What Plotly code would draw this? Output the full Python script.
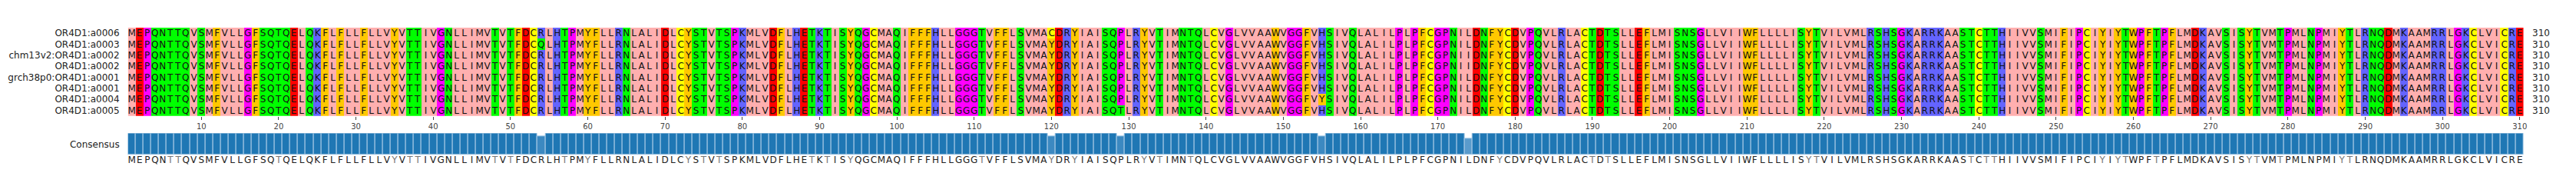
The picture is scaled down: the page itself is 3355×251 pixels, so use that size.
import plotly.graph_objects as go
from collections import Counter

# ---------------- data ----------------
names = [
    "OR4D1:a0006",
    "OR4D1:a0003",
    "chm13v2:OR4D1:a0002",
    "OR4D1:a0002",
    "grch38p0:OR4D1:a0001",
    "OR4D1:a0001",
    "OR4D1:a0004",
    "OR4D1:a0005",
]

base = ("MEPQNTTQVSMFVLLGFSQTQELQKFLFLLFLLVYVTTIVGNLLIMVTVTFDCRLHTPMYFLLRNLALID"
        "LCYSTVTSPKMLVDFLHETKTISYQGCMAQIFFFHLLGGGTVFFLSVMAYDRYIAISQPLRYVTIMNTQL"
        "CVGLVVAAWVGGFVHSIVQLALILPLPFCGPNILDNFYCDVPQVLRLACTDTSLLEFLMISNSGLLVIIW"
        "FLLLLISYTVILVMLRSHSGKARRKAASTCTTHIIVVSMIFIPCIYIYTWPFTPFLMDKAVSISYTVMTP"
        "MLNPMIYTLRNQDMKAAMRRLGKCLVICRE")

# per-sequence substitutions: {position(1-based): residue}
variants = [
    {120: "C"},
    {54: "Q"},
    {174: "I"},
    {174: "I"},
    {},
    {},
    {155: "Y"},
    {129: "T"},
]

tick_positions = list(range(10, 311, 10))

# Zappo colour groups
groups = [
    ("AILMV", "#ffafaf"),
    ("FWY", "#ffc800"),
    ("KRH", "#6464ff"),
    ("DE", "#ff0000"),
    ("STNQ", "#00ff00"),
    ("GP", "#ff00ff"),
    ("C", "#ffff00"),
]

# ---------------- build ----------------
seqs = []
for v in variants:
    s = list(base)
    for p, r in v.items():
        s[p - 1] = r
    seqs.append("".join(s))

L = len(base)
xs = list(range(1, L + 1))
letter_group = {}
for gi, (letters, col) in enumerate(groups):
    for ch in letters:
        letter_group[ch] = gi

z = [[letter_group[c] for c in s] for s in seqs]
text = [[c for c in s] for s in seqs]
ng = len(groups)
colorscale = []
for gi, (_, col) in enumerate(groups):
    colorscale.append([gi / ng, col])
    colorscale.append([(gi + 1) / ng, col])

consensus = []
conservation = []
for i in range(L):
    cnt = Counter(s[i] for s in seqs)
    ch, n = cnt.most_common(1)[0]
    consensus.append(ch)
    conservation.append(n / len(seqs))


def bar_color(c):
    if c >= 0.999:
        return "#1f77b4"
    if c >= 0.85:
        return "#3c89c1"
    return "#5a9bcc"


W, H = 3355, 251
x0, x1 = 166.9, 3291.7
hm_top, hm_bot = 36.0, 150.7
bar_top, bar_bot = 173.3, 201.7
cons_top, cons_bot = 202.0, 216.0

FONT = "DejaVu Sans"

fig = go.Figure()
fig.add_trace(go.Heatmap(
    z=z, x=xs, y=list(range(len(seqs))), text=text,
    texttemplate="%{text}", textfont=dict(size=12, color="#111111", family=FONT),
    colorscale=colorscale, zmin=-0.5, zmax=ng - 0.5, showscale=False,
    hoverinfo="skip", xaxis="x", yaxis="y",
))
fig.add_trace(go.Bar(
    x=xs, y=conservation, marker=dict(color=[bar_color(c) for c in conservation],
                                      line=dict(color="#a9cbe6", width=1)),
    width=1.0, xaxis="x2", yaxis="y2", hoverinfo="skip",
))
cons_colors = ["#777777" if c in "TY" else "#222222" for c in consensus]
fig.add_trace(go.Scatter(
    x=xs, y=[0.5] * L, mode="text", text=consensus, textposition="middle center",
    textfont=dict(size=12, color=cons_colors, family=FONT),
    xaxis="x3", yaxis="y3", hoverinfo="skip",
))

for i, s in enumerate(seqs):
    fig.add_annotation(x=L + 0.5, y=i, xref="x", yref="y", text=str(len(s.replace("-", ""))),
                       showarrow=False, xanchor="left", xshift=9,
                       font=dict(size=12, color="#222222", family=FONT))

xd = [x0 / W, x1 / W]
hidden_x = dict(domain=xd, range=[0.5, L + 0.5], showticklabels=False, ticks="",
                showgrid=False, zeroline=False, showline=False)
fig.update_layout(
    width=W, height=H, margin=dict(l=0, r=0, t=0, b=0),
    paper_bgcolor="white", plot_bgcolor="white", showlegend=False,
    font=dict(family=FONT, color="#222222"),
    xaxis=dict(domain=xd, range=[0.5, L + 0.5], tickvals=tick_positions,
               ticks="outside", ticklen=4, tickcolor="#444444", tickwidth=1,
               tickfont=dict(size=10, color="#444444"), showgrid=False, zeroline=False,
               showline=False, anchor="y"),
    yaxis=dict(domain=[1 - hm_bot / H, 1 - hm_top / H], range=[len(seqs) - 0.5, -0.5],
               tickvals=list(range(len(seqs))), ticktext=names, ticks="",
               ticklabelstandoff=10, tickfont=dict(size=12, color="#222222"),
               showgrid=False, zeroline=False, showline=False, anchor="x"),
    xaxis2=dict(hidden_x, anchor="y2"),
    yaxis2=dict(domain=[1 - bar_bot / H, 1 - bar_top / H], range=[0, 1],
                tickvals=[0.5], ticktext=["Consensus"], ticks="", ticklabelstandoff=10,
                tickfont=dict(size=12, color="#222222"),
                showgrid=False, zeroline=False, showline=False, anchor="x2"),
    xaxis3=dict(hidden_x, anchor="y3"),
    yaxis3=dict(domain=[1 - cons_bot / H, 1 - cons_top / H], range=[0, 1],
                showticklabels=False, ticks="", showgrid=False, zeroline=False,
                showline=False, anchor="x3"),
    bargap=0,
)

fig.write_html("out.html")
